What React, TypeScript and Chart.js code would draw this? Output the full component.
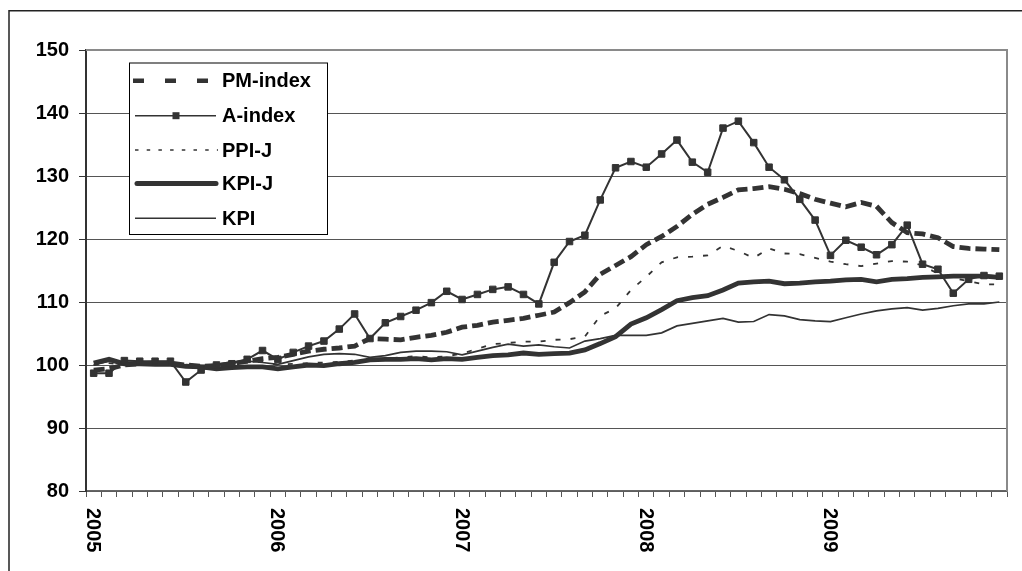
import React, { useEffect, useRef } from "react";
import { Chart, registerables } from "chart.js";

Chart.register(...registerables);

// ---------- data ----------
const years = ["2005", "2006", "2007", "2008", "2009"];
const monthsOfYear = ["01", "02", "03", "04", "05", "06", "07", "08", "09", "10", "11", "12"];

const pmIndex = [
  99.2, 99.4, 100.0, 100.2, 100.3, 100.3, 100.0, 99.8, 99.9, 100.2,
  100.6, 101.0, 101.2, 101.7, 102.2, 102.5, 102.7, 103.0, 104.2, 104.1,
  104.0, 104.4, 104.7, 105.2, 106.0, 106.3, 106.8, 107.1, 107.4, 107.9,
  108.4, 109.9, 111.6, 114.4, 115.8, 117.2, 119.1, 120.4, 122.0, 123.9,
  125.5, 126.6, 127.8, 128.0, 128.3, 127.9, 127.2, 126.3, 125.7, 125.1,
  125.8, 125.2, 122.6, 121.0, 120.8, 120.2, 118.8, 118.5, 118.4, 118.3,
];

const aIndex = [
  98.7, 98.7, 100.7, 100.6, 100.6, 100.6, 97.3, 99.2, 100.0, 100.2,
  100.9, 102.3, 100.9, 102.0, 103.0, 103.8, 105.7, 108.1, 104.2, 106.7,
  107.7, 108.7, 109.9, 111.7, 110.4, 111.2, 112.0, 112.4, 111.2, 109.7,
  116.3, 119.6, 120.6, 126.2, 131.3, 132.3, 131.4, 133.5, 135.7, 132.2,
  130.6, 137.6, 138.7, 135.3, 131.4, 129.4, 126.3, 123.0, 117.4, 119.8,
  118.7, 117.5, 119.1, 122.2, 116.0, 115.2, 111.4, 113.6, 114.2, 114.1,
];

const ppiJ = [
  100.0, 100.3, 100.0, 100.0, 100.0, 100.2, 100.0, 99.8, 100.0, 100.2,
  100.4, 100.5, 100.0, 100.2, 100.3, 100.4, 100.5, 100.7, 100.8, 101.0,
  101.2, 101.4, 101.2, 101.4, 101.8, 102.6, 103.3, 103.5, 103.7, 103.7,
  104.0, 104.1, 104.5, 107.8, 109.0, 111.9, 114.0, 116.3, 117.1, 117.2,
  117.4, 118.9, 118.1, 117.0, 118.5, 117.7, 117.6, 117.0, 116.4, 116.0,
  115.7, 116.1, 116.5, 116.4, 115.8, 114.5, 113.8, 113.3, 112.8, 112.8,
];

const kpiJ = [
  100.3, 100.9, 100.2, 100.2, 100.1, 100.1, 99.8, 99.7, 99.4, 99.6,
  99.7, 99.7, 99.4, 99.7, 100.0, 99.9, 100.2, 100.4, 100.8, 100.9,
  100.9, 101.0, 100.8, 101.0, 100.9, 101.2, 101.5, 101.6, 101.9, 101.7,
  101.8, 101.9, 102.4, 103.4, 104.5, 106.5, 107.5, 108.8, 110.2, 110.7,
  111.0, 111.9, 113.0, 113.2, 113.3, 112.9, 113.0, 113.2, 113.3, 113.5,
  113.6, 113.2, 113.6, 113.7, 113.9, 114.0, 114.1, 114.1, 114.1, 113.9,
];

const kpi = [
  100.0, 100.6, 100.4, 100.3, 100.2, 100.3, 100.0, 99.9, 100.1, 100.5,
  100.6, 100.4, 100.1, 100.7, 101.3, 101.7, 101.8, 101.7, 101.2, 101.5,
  102.0, 102.2, 102.2, 102.1, 101.6, 102.2, 102.8, 103.3, 103.0, 103.2,
  102.9, 102.7, 103.8, 104.2, 104.7, 104.7, 104.7, 105.1, 106.2, 106.6,
  107.0, 107.4, 106.8, 106.9, 108.0, 107.8, 107.2, 107.0, 106.9, 107.5,
  108.1, 108.6, 108.9, 109.1, 108.7, 109.0, 109.4, 109.7, 109.7, 110.0,
];

const seriesNames = ["PM-index", "A-index", "PPI-J", "KPI-J", "KPI"];
const yMin = 80;
const yMax = 150;
const yStep = 10;

const categories = years.flatMap((y) => monthsOfYear.map((m) => `${y}-${m}`));

// ---------- styling ----------
const FONT = "'Liberation Sans', Arial, Helvetica, sans-serif";
const INK = "#333333";

export default function App() {
  const ref = useRef<HTMLCanvasElement>(null);

  useEffect(() => {
    const canvas = ref.current;
    if (!canvas) return;

    const decor = {
      id: "decor",
      beforeDraw(chart: any) {
        const ctx = chart.ctx;
        ctx.save();
        ctx.fillStyle = "#ffffff";
        ctx.fillRect(0, 0, chart.width, chart.height);
        ctx.strokeStyle = "#222222";
        ctx.lineWidth = 1.5;
        ctx.strokeRect(9, 10.75, 2000, 2000);
        ctx.restore();
      },
      afterDraw(chart: any) {
        const ctx = chart.ctx;
        const area = chart.chartArea;
        const xs = chart.scales.x;
        ctx.save();
        // top & right frame of plot area (gray)
        ctx.strokeStyle = "#8a8a8a";
        ctx.lineWidth = 2;
        ctx.beginPath();
        ctx.moveTo(area.left, area.top);
        ctx.lineTo(area.right, area.top);
        ctx.lineTo(area.right, area.bottom);
        ctx.stroke();

        // year labels, rotated clockwise
        ctx.fillStyle = "#000000";
        ctx.font = `bold 20px ${FONT}`;
        ctx.textAlign = "left";
        ctx.textBaseline = "middle";
        categories.forEach((c, i) => {
          if (i % 12 !== 0) return;
          const x = xs.getPixelForValue(i);
          ctx.save();
          ctx.translate(x - 1, area.bottom + 17);
          ctx.rotate(Math.PI / 2);
          ctx.fillText(years[i / 12], 0, 0);
          ctx.restore();
        });

        // legend box
        const bx = 129, by = 62.5, bw = 198, bh = 171.5;
        ctx.fillStyle = "#ffffff";
        ctx.fillRect(bx, by, bw, bh);
        ctx.strokeStyle = "#000000";
        ctx.lineWidth = 1;
        ctx.strokeRect(bx + 0.5, by + 0.5, bw, bh);

        const rows = [80.7, 115.7, 150, 183.5, 218.3];
        const x0 = 135, x1 = 216;
        ctx.strokeStyle = INK;
        ctx.fillStyle = INK;
        ctx.lineCap = "butt";
        // PM-index
        ctx.lineWidth = 4.5;
        ctx.setLineDash([11, 21]);
        ctx.beginPath();
        ctx.moveTo(133, rows[0]);
        ctx.lineTo(210, rows[0]);
        ctx.stroke();
        // A-index
        ctx.setLineDash([]);
        ctx.lineWidth = 1.5;
        ctx.beginPath();
        ctx.moveTo(x0, rows[1]);
        ctx.lineTo(x1, rows[1]);
        ctx.stroke();
        ctx.fillRect(176 - 3.5, rows[1] - 3.5, 7, 7);
        // PPI-J
        ctx.lineWidth = 1.3;
        ctx.setLineDash([3.5, 8.2]);
        ctx.beginPath();
        ctx.moveTo(x0, rows[2]);
        ctx.lineTo(x1 + 2, rows[2]);
        ctx.stroke();
        // KPI-J
        ctx.setLineDash([]);
        ctx.lineWidth = 5;
        ctx.lineCap = "round";
        ctx.beginPath();
        ctx.moveTo(x0 + 2, rows[3]);
        ctx.lineTo(x1, rows[3]);
        ctx.stroke();
        // KPI
        ctx.lineCap = "butt";
        ctx.lineWidth = 1.5;
        ctx.beginPath();
        ctx.moveTo(x0, rows[4]);
        ctx.lineTo(x1, rows[4]);
        ctx.stroke();

        ctx.fillStyle = "#000000";
        ctx.font = `bold 20px ${FONT}`;
        ctx.textAlign = "left";
        ctx.textBaseline = "middle";
        seriesNames.forEach((n, i) => ctx.fillText(n, 222, rows[i] + 1));
        ctx.restore();
      },
    };

    const chart = new Chart(canvas, {
      type: "line",
      data: {
        labels: categories,
        datasets: [
          {
            label: seriesNames[0],
            data: pmIndex,
            borderColor: INK,
            borderWidth: 4.8,
            borderDash: [11, 5],
            pointRadius: 0,
            tension: 0,
            fill: false,
          },
          {
            label: seriesNames[1],
            data: aIndex,
            borderColor: INK,
            backgroundColor: INK,
            borderWidth: 2,
            pointStyle: "rect",
            pointRadius: 4.6,
            pointBorderWidth: 1,
            pointBackgroundColor: INK,
            pointBorderColor: INK,
            tension: 0,
            fill: false,
          },
          {
            label: seriesNames[2],
            data: ppiJ,
            borderColor: INK,
            borderWidth: 1.8,
            borderDash: [5, 10],
            pointRadius: 0,
            tension: 0,
            fill: false,
          },
          {
            label: seriesNames[3],
            data: kpiJ,
            borderColor: INK,
            borderWidth: 4.8,
            pointRadius: 0,
            tension: 0,
            fill: false,
          },
          {
            label: seriesNames[4],
            data: kpi,
            borderColor: INK,
            borderWidth: 1.7,
            pointRadius: 0,
            tension: 0,
            fill: false,
          },
        ],
      },
      options: {
        responsive: false,
        devicePixelRatio: 1,
        animation: false,
        layout: { padding: { left: 0, top: 50, right: 15, bottom: 0 } },
        plugins: {
          legend: { display: false },
          tooltip: { enabled: false },
          title: { display: false },
        },
        scales: {
          x: {
            type: "category",
            offset: true,
            grid: {
              offset: true,
              drawOnChartArea: false,
              drawTicks: true,
              tickLength: 6,
              tickColor: "#555555",
              tickWidth: 1,
            },
            border: { display: true, color: "#666666", width: 1.5 },
            ticks: { autoSkip: false, maxRotation: 0, minRotation: 0, callback: () => "" },
            afterFit: (s: any) => {
              s.height = 80;
            },
          },
          y: {
            min: yMin,
            max: yMax,
            ticks: {
              stepSize: yStep,
              color: "#000000",
              padding: 10,
              font: { family: FONT, size: 20, weight: "bold" },
            },
            grid: {
              color: "#555555",
              lineWidth: 1,
              drawTicks: true,
              tickLength: 7,
              tickColor: INK,
            },
            border: { display: true, color: INK, width: 2 },
            afterFit: (s: any) => {
              s.width = 86;
            },
          },
        },
      },
      plugins: [decor],
    });

    return () => chart.destroy();
  }, []);

  return (
    <div
      style={{
        position: "absolute",
        left: 0,
        top: 0,
        width: 1022,
        height: 571,
        overflow: "hidden",
        background: "#ffffff",
      }}
    >
      <canvas ref={ref} width={1022} height={571} style={{ display: "block", width: 1022, height: 571 }} />
    </div>
  );
}
